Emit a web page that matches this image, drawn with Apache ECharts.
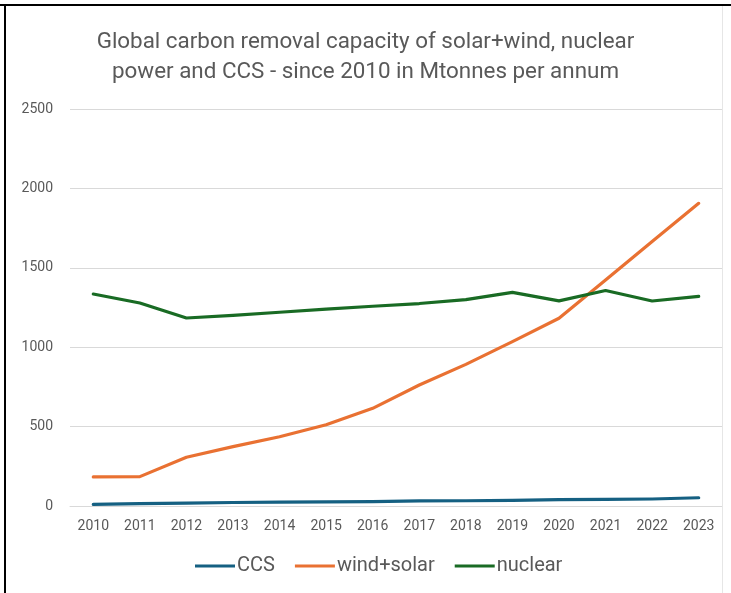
<!DOCTYPE html>
<html>
<head>
<meta charset="utf-8">
<script src="https://cdn.jsdelivr.net/npm/echarts@6/dist/echarts.min.js"></script>
<style>
  html, body { margin: 0; padding: 0; background: #ffffff; }
  #chart { width: 731px; height: 593px; }
</style>
</head>
<body>
<div id="chart"></div>
<script>
// Years on the category axis
const years = ['2010', '2011', '2012', '2013', '2014', '2015', '2016',
               '2017', '2018', '2019', '2020', '2021', '2022', '2023'];

// Carbon removal capacity, Mt per annum
const ccs = [10, 15, 18, 22, 24, 26, 28, 32, 33, 36, 40, 42, 44, 52];
const windSolar = [183, 185, 307, 374, 436, 512, 615, 762, 892, 1035, 1182, 1423, 1665, 1906];
const nuclear = [1335, 1278, 1184, 1200, 1220, 1240, 1258, 1275, 1300, 1345, 1292, 1357, 1291, 1320];

const yMin = 0, yMax = 2500, yStep = 500;

const textColor = '#595959';
const fontFamily = 'Roboto, "Noto Sans", sans-serif';

const chart = echarts.init(document.getElementById('chart'), null, { renderer: 'canvas' });

function lineSeries(name, data, color) {
  return {
    name: name,
    type: 'line',
    data: data,
    symbol: 'none',
    smooth: false,
    lineStyle: { color: color, width: 3.2, cap: 'round', join: 'round' },
    itemStyle: { color: color }
  };
}

chart.setOption({
  backgroundColor: '#ffffff',
  animation: false,
  textStyle: { fontFamily: fontFamily },
  title: {
    text: 'Global carbon removal capacity of solar+wind, nuclear\npower and CCS - since 2010 in Mtonnes per annum',
    left: 'center',
    top: 22,
    textStyle: {
      color: textColor,
      fontSize: 22.4,
      fontWeight: 'normal',
      lineHeight: 30,
      fontFamily: fontFamily
    }
  },
  legend: {
    bottom: 12,
    left: 190,
    itemWidth: 40,
    itemHeight: 3,
    itemGap: 20,
    icon: 'rect',
    textStyle: { color: textColor, fontSize: 20, fontFamily: fontFamily, padding: [0, 0, 0, -3] },
    data: ['CCS', 'wind+solar', 'nuclear']
  },
  grid: { left: 70, right: 9, top: 109, bottom: 87, containLabel: false },
  xAxis: {
    type: 'category',
    data: years,
    boundaryGap: true,
    axisLine: { show: true, lineStyle: { color: '#d9d9d9', width: 1 } },
    axisTick: { show: false },
    axisLabel: { color: textColor, fontSize: 14, margin: 13, fontFamily: fontFamily, interval: 0 },
    splitLine: { show: false }
  },
  yAxis: {
    type: 'value',
    min: yMin,
    max: yMax,
    interval: yStep,
    axisLine: { show: false },
    axisTick: { show: false },
    axisLabel: {
      color: textColor,
      fontSize: 14,
      margin: 17,
      fontFamily: fontFamily,
      formatter: function (v) { return String(v); }
    },
    splitLine: { show: true, lineStyle: { color: '#d9d9d9', width: 1 } }
  },
  graphic: [
    // frame: black top and left edges, faint right edge
    { type: 'rect', shape: { x: 0, y: 4, width: 731, height: 2 }, style: { fill: '#000000' }, z: 100 },
    { type: 'rect', shape: { x: 4, y: 4, width: 2, height: 589 }, style: { fill: '#000000' }, z: 100 },
    { type: 'rect', shape: { x: 722, y: 6, width: 1, height: 587 }, style: { fill: '#e6e6e6' }, z: 100 }
  ],
  series: [
    lineSeries('CCS', ccs, '#156082'),
    lineSeries('wind+solar', windSolar, '#E97132'),
    lineSeries('nuclear', nuclear, '#196B24')
  ]
});
</script>
</body>
</html>
